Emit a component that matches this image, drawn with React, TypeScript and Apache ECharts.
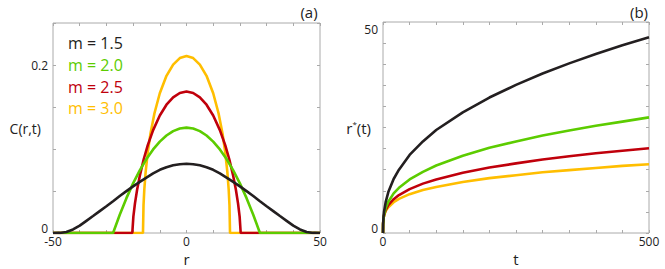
import React, { useEffect, useRef } from "react";
import * as echarts from "echarts";

const FONT = "Open Sans";

// Panel (a): half profiles C(r) for r >= 0 (curves are symmetric in r)
const blackR = [0, 2.5, 5, 7.5, 10, 12.5, 15, 17.5, 20, 22.5, 25, 27.5, 30, 32.5, 35, 37.5, 40, 42.5, 45, 47.5, 50];
const blackC = [0.0824, 0.0819, 0.0806, 0.0783, 0.0752, 0.071, 0.066, 0.0608, 0.0555, 0.0498, 0.044, 0.0378, 0.0318, 0.026, 0.0202, 0.0145, 0.0088, 0.0042, 0.0012, 0.0001, 0];

const greenR = [0, 2.5, 5, 7.5, 10, 12.5, 15, 17.5, 20, 22.5, 25, 27.5, 50];
const greenC = [0.1254, 0.1244, 0.1213, 0.1161, 0.1088, 0.0995, 0.0881, 0.0746, 0.0591, 0.0415, 0.0218, 0, 0];

const redR = [0, 2.5, 5, 7.5, 10, 12.5, 14.5, 16, 17.5, 18.5, 19.3, 19.9, 20.3, 50];
const redC = [0.1684, 0.1667, 0.1615, 0.1527, 0.1399, 0.1225, 0.1046, 0.0881, 0.068, 0.0515, 0.0353, 0.0194, 0, 0];

const orangeR = [0, 2.5, 5, 7.5, 10, 12, 13.5, 14.5, 15.3, 15.8, 16.1, 16.3, 50];
const orangeC = [0.2107, 0.2082, 0.2005, 0.1871, 0.1664, 0.1426, 0.1181, 0.0963, 0.0727, 0.0518, 0.0329, 0, 0];

// Panel (b): front position r*(t)
const tVals = [0, 0.2, 1, 2, 5, 10, 20, 30, 50, 75, 100, 150, 200, 250, 300, 350, 400, 450, 500];
const rBlack = [0, 2.0, 3.9, 5.1, 7.3, 9.7, 12.8, 15.0, 18.5, 21.7, 24.4, 28.6, 32.1, 35.1, 37.8, 40.2, 42.4, 44.5, 46.4];
const rGreen = [0, 2.0, 3.45, 4.3, 5.9, 7.4, 9.4, 10.7, 12.7, 14.5, 16.0, 18.3, 20.2, 21.7, 23.1, 24.3, 25.4, 26.4, 27.4];
const rRed = [0, 2.2, 3.4, 4.2, 5.4, 6.6, 8.0, 9.0, 10.4, 11.7, 12.7, 14.3, 15.5, 16.5, 17.4, 18.2, 18.9, 19.5, 20.1];
const rOrange = [0, 2.3, 3.45, 4.1, 5.2, 6.1, 7.3, 8.1, 9.2, 10.2, 10.9, 12.1, 13.0, 13.7, 14.4, 14.9, 15.4, 15.9, 16.3];

const legendLabels = ["m = 1.5", "m = 2.0", "m = 2.5", "m = 3.0"];
const xLabelsA = [-50, 0, 50];
const yLabelsA = [0, 0.2];
const xLabelsB = [0, 500];
const yLabelsB = [0, 50];

const COLORS = ["#231f20", "#5ccc00", "#c0000b", "#ffbe00"];

function mirror(rs: number[], cs: number[]) {
  const out: number[][] = [];
  for (let i = rs.length - 1; i > 0; i--) out.push([-rs[i], cs[i]]);
  for (let i = 0; i < rs.length; i++) out.push([rs[i], cs[i]]);
  return out;
}
function pairs(xs: number[], ys: number[]) {
  return xs.map((x, i) => [x, ys[i]]);
}
function near(v: number, list: number[]) {
  return list.some((l) => Math.abs(l - v) < 1e-9);
}

export default function App() {
  const ref = useRef<HTMLDivElement>(null);
  useEffect(() => {
    if (!ref.current) return;
    const chart = echarts.init(ref.current, undefined, { renderer: "svg" });
    const tick = { inside: true, length: 3, lineStyle: { color: "#aaa", width: 1 } };
    const lbl = { color: "#222", fontSize: 12, fontFamily: FONT };
    const nameStyle = { color: "#222", fontSize: 14, fontFamily: FONT };
    const hidden = { show: false };
    const rich = {
      lo: { fontSize: 12, fontFamily: FONT, color: "#222", padding: [0, 0, 10, 0] },
      hi: { fontSize: 12, fontFamily: FONT, color: "#222", padding: [14, 0, 0, 0] },
      mid: { fontSize: 12, fontFamily: FONT, color: "#222" },
    };
    const yFmt = (list: number[], max: number) => (v: number) => {
      if (!near(v, list)) return "";
      if (Math.abs(v) < 1e-9) return "{lo|" + v + "}";
      if (Math.abs(v - max) < 1e-9) return "{hi|" + v + "}";
      return "{mid|" + v + "}";
    };
    const base = { type: "value", axisLine: { show: false, onZero: false }, splitLine: { show: false }, axisTick: tick };
    const line = (name: string, xi: number, data: number[][], color: string) => ({
      name,
      type: "line",
      xAxisIndex: xi,
      yAxisIndex: xi,
      data,
      showSymbol: false,
      symbol: "none",
      smooth: false,
      lineStyle: { color, width: 2.6 },
      itemStyle: { color },
      z: 2,
    });
    const option: any = {
      animation: false,
      backgroundColor: "#fff",
      textStyle: { fontFamily: FONT },
      grid: [
        { left: 53, top: 23, width: 267, height: 210, show: true, borderColor: "#aaa", borderWidth: 1, backgroundColor: "transparent", outerBoundsMode: "none", containLabel: false },
        { left: 383, top: 22, width: 266, height: 211, show: true, borderColor: "#aaa", borderWidth: 1, backgroundColor: "transparent", outerBoundsMode: "none", containLabel: false },
      ],
      xAxis: [
        {
          ...base, gridIndex: 0, min: -50, max: 50, interval: 10, position: "bottom",
          axisLabel: { ...lbl, margin: 2, formatter: (v: number) => (near(v, xLabelsA) ? String(v) : "") },
          name: "r", nameLocation: "middle", nameGap: 18, nameMoveOverlap: false, nameTextStyle: { ...nameStyle, fontSize: 15 },
        },
        {
          ...base, gridIndex: 1, min: 0, max: 500, interval: 50, position: "bottom",
          axisLabel: { ...lbl, margin: 2, formatter: (v: number) => (near(v, xLabelsB) ? String(v) : "") },
          name: "t", nameLocation: "middle", nameGap: 18, nameMoveOverlap: false, nameTextStyle: { ...nameStyle, fontSize: 15 },
        },
        { ...base, gridIndex: 0, min: -50, max: 50, interval: 10, position: "top", axisLabel: hidden },
        { ...base, gridIndex: 1, min: 0, max: 500, interval: 50, position: "top", axisLabel: hidden },
      ],
      yAxis: [
        {
          ...base, gridIndex: 0, min: 0, max: 0.25, interval: 0.05, position: "left",
          axisLabel: { ...lbl, margin: 5, rich, formatter: yFmt(yLabelsA, 0.25) },
          name: "C(r,t)", nameLocation: "middle", nameRotate: 0, nameGap: 12, nameMoveOverlap: false, nameTextStyle: nameStyle,
        },
        {
          ...base, gridIndex: 1, min: 0, max: 50, interval: 5, position: "left",
          axisLabel: { ...lbl, margin: 5, rich, formatter: yFmt(yLabelsB, 50) },
          name: "{a|r}{s|*}{a|(t)}", nameLocation: "middle", nameRotate: 0, nameGap: 12, nameMoveOverlap: false,
          nameTextStyle: {
            ...nameStyle,
            rich: {
              a: { fontSize: 15, fontFamily: FONT, color: "#222" },
              s: { fontSize: 8, fontFamily: FONT, color: "#222", padding: [0, 0, 8, 0] },
            },
          },
        },
        { ...base, gridIndex: 0, min: 0, max: 0.25, interval: 0.05, position: "right", axisLabel: hidden },
        { ...base, gridIndex: 1, min: 0, max: 50, interval: 5, position: "right", axisLabel: hidden },
      ],
      series: [
        line(legendLabels[3], 0, mirror(orangeR, orangeC), COLORS[3]),
        line(legendLabels[2], 0, mirror(redR, redC), COLORS[2]),
        line(legendLabels[1], 0, mirror(greenR, greenC), COLORS[1]),
        line(legendLabels[0], 0, mirror(blackR, blackC), COLORS[0]),
        line(legendLabels[3] + " b", 1, pairs(tVals, rOrange), COLORS[3]),
        line(legendLabels[2] + " b", 1, pairs(tVals, rRed), COLORS[2]),
        line(legendLabels[1] + " b", 1, pairs(tVals, rGreen), COLORS[1]),
        line(legendLabels[0] + " b", 1, pairs(tVals, rBlack), COLORS[0]),
      ],
      graphic: [
        ...legendLabels.map((t, i) => ({
          type: "text",
          x: 68,
          y: 42.7 + i * 21.9,
          style: { text: t, fill: COLORS[i], fontSize: 16, fontFamily: FONT, align: "left", verticalAlign: "middle" },
        })),
        { type: "text", x: 309, y: 12, style: { text: "(a)", fill: "#222", fontSize: 15, fontFamily: FONT, align: "center", verticalAlign: "middle" } },
        { type: "text", x: 639, y: 12, style: { text: "(b)", fill: "#222", fontSize: 15, fontFamily: FONT, align: "center", verticalAlign: "middle" } },
      ],
    };
    chart.setOption(option);
    return () => chart.dispose();
  }, []);
  return <div ref={ref} style={{ position: "fixed", left: 0, top: 0, width: 665, height: 269 }} />;
}
